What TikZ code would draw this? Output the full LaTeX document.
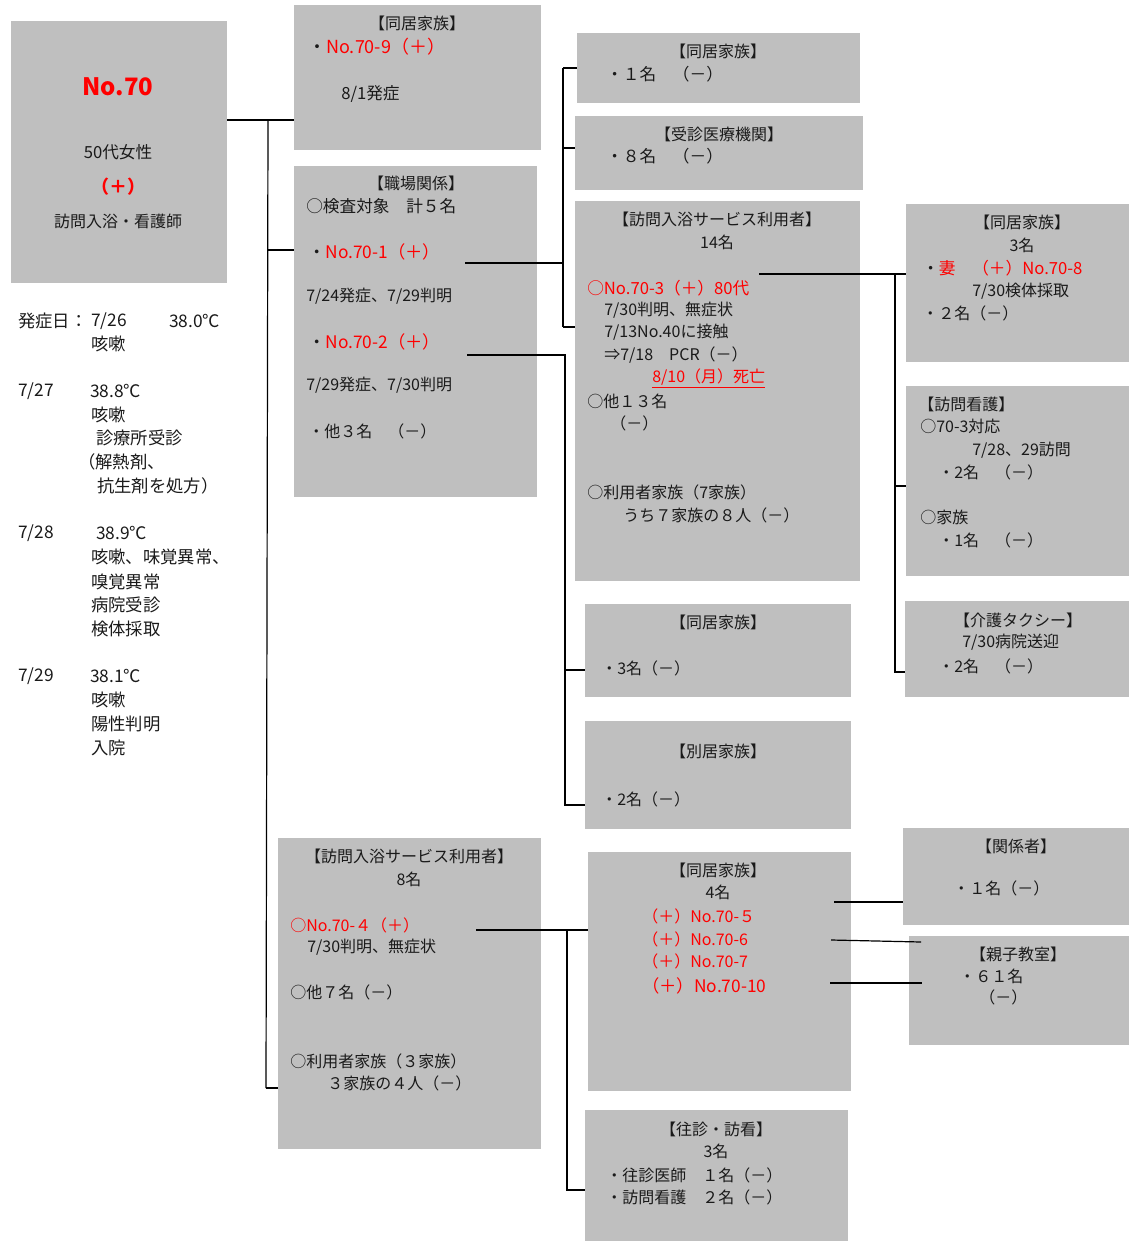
\documentclass[tikz,border=0pt]{standalone}
\usepackage{fontspec}
\setmainfont{Noto Sans CJK JP}
\definecolor{boxgray}{HTML}{BFBFBF}
\definecolor{myred}{HTML}{FF0000}
\definecolor{ink}{HTML}{1A1A1A}
\newdimen\px \px=0.75pt
\tikzset{
  box/.style={fill=boxgray, draw=none, anchor=north west, inner sep=0pt, outer sep=0pt},
  tl/.style={anchor=west, inner sep=0pt, text=ink, font=\fontsize{12}{14}\selectfont},
  tc/.style={tl, anchor=center},
  tlg/.style={tl, font=\fontsize{13}{15}\selectfont},
  conn/.style={draw=black, line width=0.9pt},
}
\newcommand{\rd}[1]{\textcolor{myred}{#1}}
\begin{document}
\begin{tikzpicture}[x=0.75pt,y=-0.75pt]
\useasboundingbox (0,0) rectangle (1129,1241);
% boxes
\node[box, minimum width=216\px, minimum height=262\px] (b1) at (11,21) {};
\node[box, minimum width=247\px, minimum height=145\px] (b2) at (294,5) {};
\node[box, minimum width=243\px, minimum height=331\px] (b3) at (294,166) {};
\node[box, minimum width=283\px, minimum height=70\px] (b4) at (577,33) {};
\node[box, minimum width=288\px, minimum height=74\px] (b5) at (575,116) {};
\node[box, minimum width=285\px, minimum height=380\px] (b6) at (575,201) {};
\node[box, minimum width=223\px, minimum height=158\px] (b7) at (906,204) {};
\node[box, minimum width=223\px, minimum height=190\px] (b8) at (906,386) {};
\node[box, minimum width=224\px, minimum height=96\px] (b9) at (905,601) {};
\node[box, minimum width=266\px, minimum height=93\px] (b10) at (585,604) {};
\node[box, minimum width=266\px, minimum height=108\px] (b11) at (585,721) {};
\node[box, minimum width=263\px, minimum height=311\px] (b12) at (278,838) {};
\node[box, minimum width=263\px, minimum height=239\px] (b13) at (588,852) {};
\node[box, minimum width=226\px, minimum height=97\px] (b14) at (903,828) {};
\node[box, minimum width=220\px, minimum height=109\px] (b15) at (909,936) {};
\node[box, minimum width=263\px, minimum height=131\px] (b16) at (585,1110) {};

% connectors
\coordinate (J0) at (268,120);
\coordinate (J1) at (268,250);
\coordinate (J2) at (266,1088);
\draw[conn] (b1.east |- J0) -- (b2.west |- J0);
\draw[conn] (J0) -- (J2);
\draw[conn] (J1) -- (b3.west |- J1);
\draw[conn] (J2) -- (b12.west |- J2);

\coordinate (s1) at (465,263);
\coordinate (V1a) at (563,68);
\coordinate (V1c) at (563,148);
\coordinate (V1b) at (563,327);
\draw[conn] (s1) -- (s1 -| V1a);
\draw[conn] (V1a) -- (V1b);
\draw[conn] (V1a) -- (b4.west |- V1a);
\draw[conn] (V1c) -- (b5.west |- V1c);
\draw[conn] (V1b) -- (b6.west |- V1b);

\coordinate (s2) at (467,355);
\coordinate (V2a) at (565,355);
\coordinate (V2c) at (565,670);
\coordinate (V2b) at (565,805);
\draw[conn] (s2) -- (V2a) -- (V2b) -- (b11.west |- V2b);
\draw[conn] (V2c) -- (b10.west |- V2c);

\coordinate (s3) at (759,274);
\coordinate (V3a) at (895,274);
\coordinate (V3c) at (895,486);
\coordinate (V3b) at (895,672);
\draw[conn] (s3) -- (b7.west |- s3);
\draw[conn] (V3a) -- (V3b) -- (b9.west |- V3b);
\draw[conn] (V3c) -- (b8.west |- V3c);

\coordinate (s4) at (476,930);
\coordinate (V4a) at (567,930);
\coordinate (V4b) at (567,1190);
\draw[conn] (s4) -- (b13.west |- s4);
\draw[conn] (V4a) -- (V4b) -- (b16.west |- V4b);

\coordinate (s5) at (834,902);
\coordinate (s6) at (831,940);
\coordinate (e6) at (921,942);
\coordinate (s7) at (830,983);
\coordinate (e7) at (922,983);
\draw[conn] (s5) -- (b14.west |- s5);
\draw[conn] (s6) -- (e6);
\draw[conn] (s7) -- (e7);

% box 1
\node[tc, font=\fontsize{18}{20}\selectfont\bfseries, text=myred] (m1) at (118,87) {No.70};
\node[tc, font=\fontsize{12.5}{14}\selectfont] (m2) at (118,152) {50代女性};
\node[tc, font=\fontsize{13.5}{15}\selectfont\bfseries, text=myred] (m3) at (118,187) {（＋）};
\node[tc] (m4) at (118,221) {訪問入浴・看護師};

% timeline
\node[tlg] (l1a) at (18,321) {発症日：};
\node[tlg] (l1b) at (91,321) {7/26};
\node[tlg] (l1c) at (169,321) {38.0℃};
\node[tlg] (l2) at (91,344) {咳嗽};
\node[tlg] (l3a) at (18,391) {7/27};
\node[tlg] (l3b) at (90,391) {38.8℃};
\node[tlg] (l4) at (91,415) {咳嗽};
\node[tlg] (l5) at (96,438) {診療所受診};
\node[tlg] (l6) at (78,462) {（解熱剤、};
\node[tlg] (l7) at (97,486) {抗生剤を処方）};
\node[tlg] (l8a) at (18,533) {7/28};
\node[tlg] (l8b) at (96,533) {38.9℃};
\node[tlg] (l9) at (91,557) {咳嗽、味覚異常、};
\node[tlg] (l10) at (91,582) {嗅覚異常};
\node[tlg] (l11) at (91,605) {病院受診};
\node[tlg] (l12) at (91,629) {検体採取};
\node[tlg] (l13a) at (18,676) {7/29};
\node[tlg] (l13b) at (90,676) {38.1℃};
\node[tlg] (l14) at (91,700) {咳嗽};
\node[tlg] (l15) at (91,724) {陽性判明};
\node[tlg] (l16) at (91,748) {入院};

% box 2
\node[tc] (a1) at (417,23) {【同居家族】};
\node[tl, font=\fontsize{13.5}{15}\selectfont] (a2) at (308,47) {・\rd{No.70-9（＋）}};
\node[tl, font=\fontsize{12.5}{14}\selectfont] (a3) at (341,94) {8/1発症};

% box 3
\node[tc] (c1) at (416,183) {【職場関係】};
\node[tl, font=\fontsize{12.5}{14}\selectfont] (c2) at (306,206) {○検査対象　計５名};
\node[tl, font=\fontsize{13}{15}\selectfont] (c3) at (308,252) {・\rd{No.70-1（＋）}};
\node[tl] (c4) at (306,296) {7/24発症、7/29判明};
\node[tl, font=\fontsize{13}{15}\selectfont] (c5) at (308,342) {・\rd{No.70-2（＋）}};
\node[tl] (c6) at (306,385) {7/29発症、7/30判明};
\node[tl] (c7) at (308,431) {・他３名　（－）};

% box 4, 5
\node[tc] (d1) at (718,51) {【同居家族】};
\node[tl, font=\fontsize{12.5}{14}\selectfont] (d2) at (606,74) {・１名　（－）};
\node[tc] (e1) at (719,134) {【受診医療機関】};
\node[tl, font=\fontsize{12.5}{14}\selectfont] (e2) at (606,156) {・８名　（－）};

% box 6
\node[tc] (f1) at (717,219) {【訪問入浴サービス利用者】};
\node[tc] (f2) at (717,242) {14名};
\node[tl, font=\fontsize{12.5}{14}\selectfont, text=myred] (f3) at (587,288) {○No.70-3（＋）80代};
\node[tl] (f4) at (604,310) {7/30判明、無症状};
\node[tl] (f5) at (604,332) {7/13No.40に接触};
\node[tl] (f6) at (604,355) {⇒7/18　PCR（－）};
\node[tl, text=myred] (f7) at (652,378) {\underline{8/10（月）死亡}};
\node[tl] (f8) at (587,401) {○他１３名};
\node[tl] (f9) at (610,423) {（－）};
\node[tl] (f10) at (587,492) {○利用者家族（7家族）};
\node[tl] (f11) at (623,515) {うち７家族の８人（－）};

% box 7
\node[tc] (g1) at (1022,222) {【同居家族】};
\node[tc] (g2) at (1022,245) {3名};
\node[tl, font=\fontsize{12.5}{14}\selectfont] (g3) at (922,268) {・\rd{妻　（＋）No.70-8}};
\node[tl] (g4) at (972,291) {7/30検体採取};
\node[tl] (g5) at (922,313) {・２名（－）};

% box 8
\node[tl] (h1) at (918,404) {【訪問看護】};
\node[tl] (h2) at (920,426) {○70-3対応};
\node[tl] (h3) at (972,450) {7/28、29訪問};
\node[tl] (h4) at (938,472) {・2名　（－）};
\node[tl] (h5) at (920,517) {○家族};
\node[tl] (h6) at (938,540) {・1名　（－）};

% box 9
\node[tc] (i1) at (1018,620) {【介護タクシー】};
\node[tl] (i2) at (962,642) {7/30病院送迎};
\node[tl] (i3) at (938,666) {・2名　（－）};

% box 10, 11
\node[tc] (k1) at (718,622) {【同居家族】};
\node[tl] (k2) at (601,668) {・3名（－）};
\node[tc] (n1) at (718,751) {【別居家族】};
\node[tl] (n2) at (601,799) {・2名（－）};

% box 12
\node[tc] (p1) at (409,856) {【訪問入浴サービス利用者】};
\node[tc] (p2) at (409,879) {8名};
\node[tl, text=myred] (p3) at (290,925) {○No.70-４（＋）};
\node[tl] (p4) at (307,947) {7/30判明、無症状};
\node[tl] (p5) at (290,992) {○他７名（－）};
\node[tl] (p6) at (290,1061) {○利用者家族（３家族）};
\node[tl] (p7) at (327,1083) {３家族の４人（－）};

% box 13
\node[tc] (q1) at (718,870) {【同居家族】};
\node[tc] (q2) at (718,892) {4名};
\node[tl, text=myred] (q3) at (642,916) {（＋）No.70-５};
\node[tl, text=myred] (q4) at (642,939) {（＋）No.70-6};
\node[tl, text=myred] (q5) at (642,961) {（＋）No.70-7};
\node[tl, text=myred, font=\fontsize{13}{15}\selectfont] (q6) at (642,986) {（＋）No.70-10};

% box 14, 15
\node[tc] (r1) at (1016,846) {【関係者】};
\node[tl] (r2) at (953,888) {・１名（－）};
\node[tc] (u1) at (1018,954) {【親子教室】};
\node[tl] (u2) at (959,976) {・６１名};
\node[tl] (u3) at (979,997) {（－）};

% box 16
\node[tc] (v1) at (716,1129) {【往診・訪看】};
\node[tc] (v2) at (716,1151) {3名};
\node[tl] (v3) at (606,1175) {・往診医師　１名（－）};
\node[tl] (v4) at (606,1197) {・訪問看護　２名（－）};
\end{tikzpicture}
\end{document}
